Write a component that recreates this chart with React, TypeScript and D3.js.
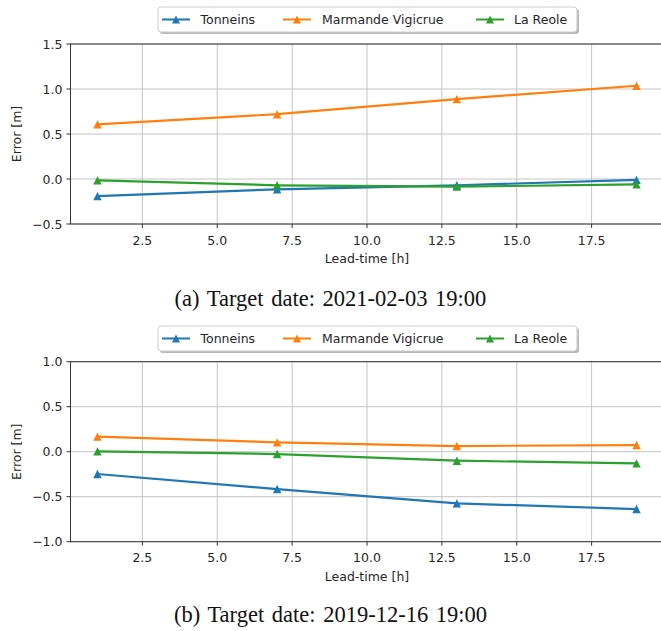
import React from "react";
import * as d3 from "d3";

// Lead times (hours) at which each forecast error was evaluated
const leadTimes = [1, 7, 13, 19];
const seriesNames = ["Tonneins", "Marmande Vigicrue", "La Reole"];
const seriesColors = ["#1f77b4", "#ff7f0e", "#2ca02c"];

// Panel (a): target date 2021-02-03 19:00
const errorsA_Tonneins = [-0.19, -0.115, -0.07, -0.01];
const errorsA_Marmande = [0.607, 0.72, 0.887, 1.036];
const errorsA_LaReole = [-0.015, -0.07, -0.085, -0.06];

// Panel (b): target date 2019-12-16 19:00
const errorsB_Tonneins = [-0.248, -0.415, -0.574, -0.637];
const errorsB_Marmande = [0.167, 0.104, 0.063, 0.074];
const errorsB_LaReole = [0.004, -0.026, -0.1, -0.13];

const xTicks = [2.5, 5.0, 7.5, 10.0, 12.5, 15.0, 17.5];
const yTicksA = [-0.5, 0.0, 0.5, 1.0, 1.5];
const yTicksB = [-1.0, -0.5, 0.0, 0.5, 1.0];

const captionA = "(a) Target date: 2021-02-03 19:00";
const captionB = "(b) Target date: 2019-12-16 19:00";

const FONT = "'DejaVu Sans', sans-serif";
const FS = 12.5;
const TEXT = "#262626";

const fmt = (v: number) => d3.format(".1f")(v).replace("-", "\u2212");

function triangle(cx: number, cy: number, h: number) {
  return `M${cx},${cy - h}L${cx + h},${cy + h}L${cx - h},${cy + h}Z`;
}

type PanelProps = {
  top: number;
  bottom: number;
  yDomain: [number, number];
  yTicks: number[];
  series: number[][];
  legendY: number;
};

function Legend({ y }: { y: number }) {
  const x0 = 158;
  const x1 = 577;
  const h = 25;
  const entries = [
    { lx: 162, tx: 200.5 },
    { lx: 283, tx: 322 },
    { lx: 476, tx: 514 },
  ];
  return (
    <g>
      <rect x={x0 + 2} y={y + 2} width={x1 - x0} height={h} rx={3} fill="#9a9a9a" opacity={0.7} />
      <rect x={x0} y={y} width={x1 - x0} height={h} rx={3} fill="#ffffff" stroke="#cccccc" strokeWidth={1} />
      {entries.map((e, i) => (
        <g key={i}>
          <line x1={e.lx} x2={e.lx + 28} y1={y + h / 2} y2={y + h / 2} stroke={seriesColors[i]} strokeWidth={2} />
          <path d={triangle(e.lx + 14, y + h / 2, 4)} fill={seriesColors[i]} />
          <text x={e.tx} y={y + h / 2} dy="0.36em" fontFamily={FONT} fontSize={FS} fill={TEXT}>
            {seriesNames[i]}
          </text>
        </g>
      ))}
    </g>
  );
}

function Panel({ top, bottom, yDomain, yTicks, series, legendY }: PanelProps) {
  const x = d3.scaleLinear().domain([0.1, 19.9]).range([70.5, 663.5]);
  const y = d3.scaleLinear().domain(yDomain).range([bottom, top]);
  const line = d3
    .line<number>()
    .x((_, i) => x(leadTimes[i]))
    .y((d) => y(d));
  const left = x.range()[0];
  const right = x.range()[1];
  return (
    <g>
      {/* grid */}
      {xTicks.map((t) => (
        <line key={"gx" + t} x1={x(t)} x2={x(t)} y1={top} y2={bottom} stroke="#c4c4c4" strokeWidth={1} />
      ))}
      {yTicks.map((t) => (
        <line key={"gy" + t} x1={left} x2={right} y1={y(t)} y2={y(t)} stroke="#c4c4c4" strokeWidth={1} />
      ))}
      {/* series */}
      {series.map((vals, i) => (
        <g key={"s" + i}>
          <path d={line(vals) || ""} fill="none" stroke={seriesColors[i]} strokeWidth={2.2} />
          {vals.map((v, j) => (
            <path key={j} d={triangle(x(leadTimes[j]), y(v), 4.2)} fill={seriesColors[i]} />
          ))}
        </g>
      ))}
      {/* spines */}
      <rect x={left} y={top} width={right - left} height={bottom - top} fill="none" stroke="#333" strokeWidth={1} />
      {/* x ticks */}
      {xTicks.map((t) => (
        <g key={"tx" + t}>
          <line x1={x(t)} x2={x(t)} y1={bottom} y2={bottom + 4} stroke="#333" strokeWidth={1} />
          <text x={x(t)} y={bottom + 20.5} textAnchor="middle" fontFamily={FONT} fontSize={FS} fill={TEXT}>
            {fmt(t)}
          </text>
        </g>
      ))}
      {/* y ticks */}
      {yTicks.map((t) => (
        <g key={"ty" + t}>
          <line x1={left - 4} x2={left} y1={y(t)} y2={y(t)} stroke="#333" strokeWidth={1} />
          <text x={left - 8} y={y(t)} dy="0.36em" textAnchor="end" fontFamily={FONT} fontSize={FS} fill={TEXT}>
            {fmt(t)}
          </text>
        </g>
      ))}
      <text x={367} y={bottom + 39} textAnchor="middle" fontFamily={FONT} fontSize={FS} fill={TEXT}>
        Lead-time [h]
      </text>
      <text
        transform={`translate(21,${(top + bottom) / 2}) rotate(-90)`}
        textAnchor="middle"
        fontFamily={FONT}
        fontSize={FS}
        fill={TEXT}
      >
        Error [m]
      </text>
      <Legend y={legendY} />
    </g>
  );
}

export default function App() {
  return (
    <svg
      width={661}
      height={631}
      style={{ position: "absolute", left: 0, top: 0, background: "#fff" }}
    >
      <rect width={661} height={631} fill="#fff" />
      <Panel
        top={44}
        bottom={224}
        yDomain={[-0.5, 1.5]}
        yTicks={yTicksA}
        series={[errorsA_Tonneins, errorsA_Marmande, errorsA_LaReole]}
        legendY={7}
      />
      <Panel
        top={361.7}
        bottom={541.7}
        yDomain={[-1, 1]}
        yTicks={yTicksB}
        series={[errorsB_Tonneins, errorsB_Marmande, errorsB_LaReole]}
        legendY={326}
      />
      <text x={330.5} y={305.5} textAnchor="middle" fontFamily="'Liberation Serif', serif" fontSize={22.5} fill="#111" wordSpacing={2}>
        {captionA}
      </text>
      <text x={330.5} y={622} textAnchor="middle" fontFamily="'Liberation Serif', serif" fontSize={22.5} fill="#111" wordSpacing={2}>
        {captionB}
      </text>
    </svg>
  );
}
